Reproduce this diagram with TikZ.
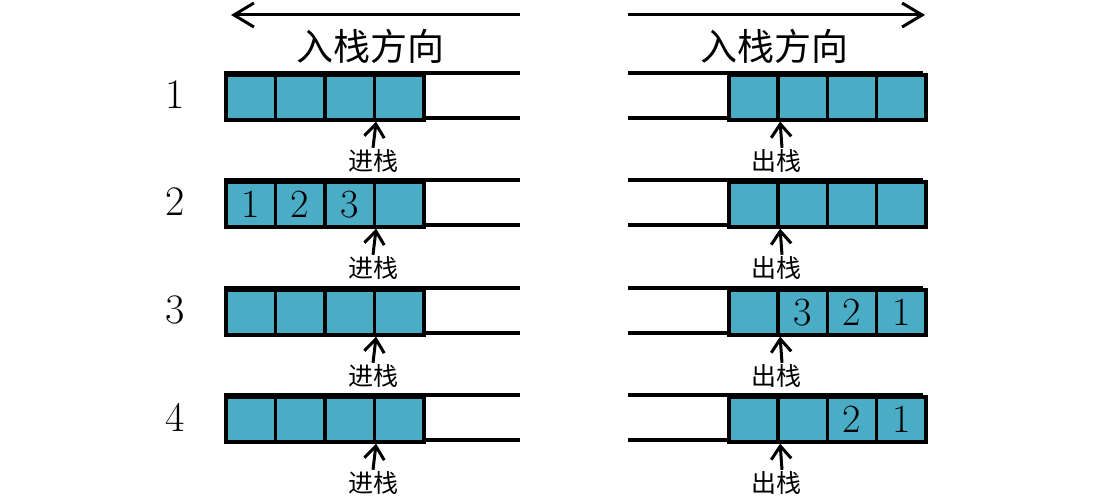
\documentclass[tikz,border=0pt]{standalone}
\usepackage{fontspec}
\newfontfamily\cjk{Noto Sans CJK SC}
\usetikzlibrary{arrows.meta}
\definecolor{cellblue}{HTML}{4BACC6}
\begin{document}
\begin{tikzpicture}[x=1pt,y=-1pt,
  rail/.style={line width=3.6pt},
  cell/.style={draw, line width=3.6pt, fill=cellblue, minimum width=49.5pt, minimum height=45pt,
    inner sep=0pt, anchor=north west, font=\fontsize{40}{40}\selectfont},
  rowlab/.style={font=\fontsize{42}{42}\selectfont},
  title/.style={font=\cjk\fontsize{37}{37}\selectfont, inner sep=0pt},
  oplab/.style={font=\cjk\fontsize{25}{25}\selectfont, inner sep=1.5pt},
  bigarr/.style={line width=3pt, -{Straight Barb[length=20pt,width=24pt,line width=3pt]}},
  arr/.style={line width=3pt, -{Straight Barb[length=13pt,width=20pt,line width=3pt]}}]
\useasboundingbox (0,0) rectangle (1116,500);
% direction arrows and titles
\coordinate (la1) at (520,15); \coordinate (la2) at (231,15);
\coordinate (ra1) at (628,15); \coordinate (ra2) at (925,15);
\draw[bigarr] (la1) -- (la2);
\draw[bigarr] (ra1) -- (ra2);
\node[title] (lt) at (370,46) {入栈方向};
\node[title] (rt) at (774,46) {入栈方向};
% rows
\foreach \r/\y in {1/73,2/180,3/288,4/395}{
  \node[rowlab] (n\r) at (175,\y+22) {\r};
  \coordinate (lr\r a) at (224,\y); \coordinate (lr\r b) at (520,\y);
  \coordinate (lr\r c) at (224,\y+45); \coordinate (lr\r d) at (520,\y+45);
  \draw[rail] (lr\r a) -- (lr\r b); \draw[rail] (lr\r c) -- (lr\r d);
  \coordinate (rr\r a) at (628,\y); \coordinate (rr\r b) at (923,\y);
  \coordinate (rr\r c) at (628,\y+45); \coordinate (rr\r d) at (923,\y+45);
  \draw[rail] (rr\r a) -- (rr\r b); \draw[rail] (rr\r c) -- (rr\r d);
}
% left cells
\foreach \r/\y/\ta/\tb/\tc/\td in {1/73/{}/{}/{}/{},2/180/1/2/3/{},3/288/{}/{}/{}/{},4/395/{}/{}/{}/{}}{
  \node[cell] (L\r-1) at (224,\y) {\ta};
  \node[cell] (L\r-2) at (273.5,\y) {\tb};
  \node[cell] (L\r-3) at (323,\y) {\tc};
  \node[cell] (L\r-4) at (372.5,\y) {\td};
  \node[oplab] (Ll\r) at (373,\y+88) {进栈};
  \draw[arr] (Ll\r.north) -- (L\r-3.south east);
}
% right cells
\foreach \r/\y/\ta/\tb/\tc/\td in {1/73/{}/{}/{}/{},2/180/{}/{}/{}/{},3/288/{}/3/2/1,4/395/{}/{}/2/1}{
  \node[cell] (R\r-1) at (727,\y) {\ta};
  \node[cell] (R\r-2) at (776.25,\y) {\tb};
  \node[cell] (R\r-3) at (825.5,\y) {\tc};
  \node[cell] (R\r-4) at (874.75,\y) {\td};
  \node[oplab] (Rl\r) at (776,\y+88) {出栈};
  \draw[arr] ([xshift=6pt]Rl\r.north) -- (R\r-1.south east);
}
\end{tikzpicture}
\end{document}
